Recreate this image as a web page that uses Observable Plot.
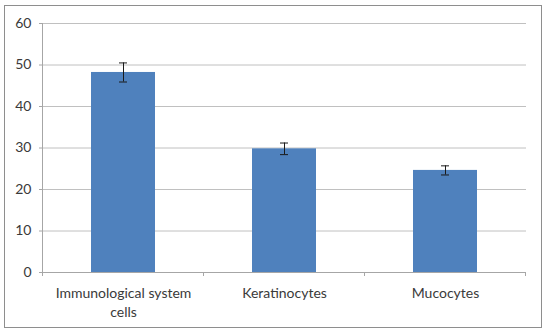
<!DOCTYPE html>
<html><head>
<meta charset="utf-8">
<script src="https://cdn.jsdelivr.net/npm/d3@7"></script>
<script src="https://cdn.jsdelivr.net/npm/@observablehq/plot@0.6"></script>
<style>
body{margin:0;background:#fff;}
#wrap{position:relative;width:550px;height:335px;}
#wrap svg{position:absolute;left:0;top:0;}
#border{position:absolute;left:4px;top:5px;width:536px;height:321px;border:1.5px solid #8e8e8e;pointer-events:none;}
</style></head><body><div id="wrap"></div>
<script>
const categories = ["Immunological system cells", "Keratinocytes", "Mucocytes"];
const xLabels = ["Immunological system\ncells", "Keratinocytes", "Mucocytes"];
const means = [48.2, 29.8, 24.6];
const errors = [2.3, 1.4, 1.1];
const yTicks = [0, 10, 20, 30, 40, 50, 60];

const data = categories.map((c, i) => ({cat: c, mean: means[i], err: errors[i]}));
const labelOf = new Map(categories.map((c, i) => [c, xLabels[i]]));

const plot = Plot.plot({
  width: 550, height: 335,
  marginLeft: 43, marginRight: 24, marginTop: 23, marginBottom: 63,
  style: {fontFamily: "Lato, sans-serif", fontSize: "14px", color: "#3a3a3a", background: "transparent"},
  x: {domain: categories, paddingInner: 0.6, paddingOuter: 0.3},
  y: {domain: [0, 60]},
  marks: [
    Plot.gridY(yTicks.filter(d => d > 0), {stroke: "#c0c0c0", strokeOpacity: 1, strokeWidth: 1}),
    Plot.barY(data, {x: "cat", y: "mean", fill: "#4f81bd"}),
    Plot.ruleX(data, {x: "cat", y1: d => d.mean - d.err, y2: d => d.mean + d.err, stroke: "#1a1a1a", strokeWidth: 1}),
    Plot.tickY(data, {x: "cat", y: d => d.mean - d.err, stroke: "#1a1a1a", insetLeft: 28, insetRight: 28}),
    Plot.tickY(data, {x: "cat", y: d => d.mean + d.err, stroke: "#1a1a1a", insetLeft: 28, insetRight: 28}),
    Plot.axisY({ticks: yTicks, tickSize: 4, tickPadding: 8, stroke: "#a6a6a6", fill: "#3a3a3a", label: null, fontSize: 14}),
    Plot.axisX({tickSize: 0, tickPadding: 13, tickFormat: d => labelOf.get(d), fill: "#3a3a3a", label: null, fontSize: 14, lineHeight: 1.3}),
    Plot.ruleY([0], {stroke: "#a6a6a6"})
  ]
});

const wrap = document.getElementById("wrap");
wrap.appendChild(plot);
const sx = plot.scale("x"), sy = plot.scale("y");
const svg = d3.select(plot);
const y0 = sy.apply(0), y60 = sy.apply(60);
const bandStarts = categories.map(c => sx.apply(c) - (sx.step - sx.bandwidth) / 2);
const seps = [...bandStarts, bandStarts[bandStarts.length - 1] + sx.step];
svg.append("line").attr("x1", seps[0]).attr("x2", seps[0]).attr("y1", y60).attr("y2", y0).attr("stroke", "#a6a6a6");
svg.selectAll("line.sep").data(seps).join("line").attr("class", "sep")
  .attr("x1", d => d).attr("x2", d => d).attr("y1", y0).attr("y2", y0 + 4).attr("stroke", "#a6a6a6");
const border = document.createElement("div");
border.id = "border";
wrap.appendChild(border);
</script>
</body></html>
